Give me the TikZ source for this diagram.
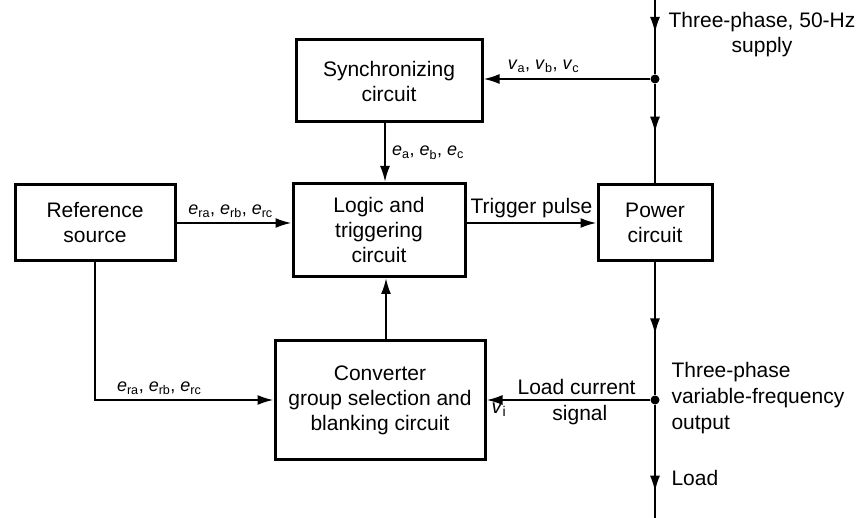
\documentclass[tikz,border=0pt]{standalone}
\usepackage{fontspec}
\setmainfont{Liberation Sans}
\usetikzlibrary{arrows.meta,positioning,calc,decorations.markings}

\newcommand{\sgl}[2]{\textit{#1}\textsubscript{#2}}

\begin{document}
\begin{tikzpicture}[
  x=1pt, y=-1pt,
  font=\fontsize{21}{25}\selectfont,
  blk/.style={draw, line width=3pt, align=center, inner sep=2pt},
  ar/.style={-{Latex[length=16pt,width=10pt]}, line width=2pt},
  ln/.style={line width=2pt},
  midar/.style={ln, postaction={decorate}, decoration={markings,
      mark=at position #1 with {\arrow{Latex[length=16pt,width=10pt]}}}},
  lbl/.style={font=\fontsize{18}{20}\selectfont, inner sep=2pt},
  jn/.style={circle, fill, inner sep=0pt, minimum size=9pt}
]
\useasboundingbox (0,0) rectangle (859,518);

% blocks
\node[blk, minimum width=186pt, minimum height=82pt] (sync) at (389,81) {Synchronizing\\circuit};
\node[blk, minimum width=172pt, minimum height=93pt] (logic) at (379,230) {Logic and\\triggering\\circuit};
\node[blk, minimum width=160pt, minimum height=76pt] (ref) at (95,223) {Reference\\source};
\node[blk, minimum width=114pt, minimum height=76pt] (pow) at (655,223) {Power\\circuit};
\node[blk, minimum width=210pt, minimum height=118pt] (conv) at (380,400) {Converter\\group selection and\\blanking circuit};

% supply line
\coordinate (top) at (655,0);
\node[jn] (tap1) at (655,79) {};
\node[jn] (tap2) at (655,400) {};
\coordinate (bot) at (655,518);

\draw[midar=33pt] (top) -- (tap1);
\draw[midar=49pt] (tap1) -- (pow.north);
\draw[midar=72pt] (pow.south) -- (tap2);
\draw[midar=87pt] (tap2) -- (bot);

\node[align=center] (sup) at (762,35) {Three-phase, 50-Hz\\supply};
\node[align=left, anchor=west, font=\fontsize{21}{26}\selectfont] (out) at (668,398) {Three-phase\\variable-frequency\\output};
\node[anchor=west] (load) at (668,478) {Load};

% signals
\draw[ar] (tap1) -- node[lbl, above=3pt, pos=0.64] {\sgl{v}{a}, \sgl{v}{b}, \sgl{v}{c}} (sync.east |- tap1);
\draw[ar] ([xshift=-4pt]sync.south) -- node[lbl, right=4pt] {\sgl{e}{a}, \sgl{e}{b}, \sgl{e}{c}} ([xshift=-4pt]sync.south |- logic.north);
\draw[ar] (ref.east) -- node[lbl, above=2pt, pos=0.47] {\sgl{e}{ra}, \sgl{e}{rb}, \sgl{e}{rc}} (ref.east -| logic.west);
\draw[ar] (logic.east |- pow.west) -- node[above=1pt] {Trigger pulse} (pow.west);
\draw[ar] ([xshift=6pt]conv.north) -- ([xshift=6pt]conv.north |- logic.south);
\draw[ar] (ref.south) |- node[lbl, above=2pt, pos=0.68] {\sgl{e}{ra}, \sgl{e}{rb}, \sgl{e}{rc}} (conv.west);
\draw[ar] (tap2) -- node[above=1pt, pos=0.45] {Load current}
                    node[below=1pt, pos=0.43] {signal} (conv.east |- tap2);
\node[lbl, anchor=north west, font=\fontsize{20}{20}\selectfont] (vi) at ([xshift=3pt,yshift=-1pt]conv.east |- tap2) {\sgl{v}{i}};
\end{tikzpicture}
\end{document}
